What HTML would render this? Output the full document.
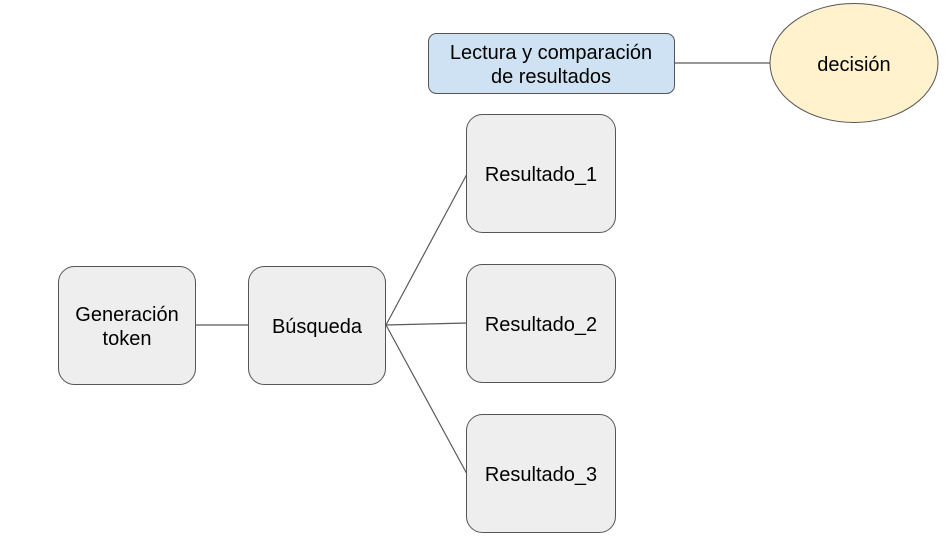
<!DOCTYPE html>
<html><head><meta charset="utf-8"><style>
html,body{margin:0;padding:0;background:#fff;width:949px;height:548px;overflow:hidden}
svg text{font-family:"Liberation Sans",Arial,sans-serif;font-size:20px;fill:#000}
</style></head><body>
<svg width="949" height="548" viewBox="0 0 949 548" xmlns="http://www.w3.org/2000/svg">
<g stroke="#595959" stroke-width="1.2" fill="none">
<line x1="674" y1="63" x2="770" y2="63"/>
<line x1="195" y1="325" x2="248" y2="325"/>
<line x1="386" y1="325" x2="467" y2="174"/>
<line x1="386" y1="325" x2="467" y2="323"/>
<line x1="386" y1="325" x2="467" y2="474"/>
</g>
<g stroke="#555" stroke-width="1">
<rect x="428.5" y="33.5" width="246" height="60" rx="8" fill="#cfe2f3"/>
<ellipse cx="854" cy="63" rx="84" ry="59.5" fill="#fff2cc"/>
<rect x="466.5" y="114.5" width="149" height="118" rx="16" fill="#eeeeee"/>
<rect x="466.5" y="264.5" width="149" height="118" rx="16" fill="#eeeeee"/>
<rect x="466.5" y="414.5" width="149" height="118" rx="16" fill="#eeeeee"/>
<rect x="58.5" y="266.5" width="137" height="118" rx="16" fill="#eeeeee"/>
<rect x="248.5" y="266.5" width="137" height="118" rx="16" fill="#eeeeee"/>
</g>
<g text-anchor="middle">
<text x="551" y="59">Lectura y comparación</text>
<text x="551" y="83">de resultados</text>
<text x="854" y="71">decisión</text>
<text x="541" y="181">Resultado_1</text>
<text x="541" y="331">Resultado_2</text>
<text x="541" y="481">Resultado_3</text>
<text x="127" y="321">Generación</text>
<text x="127" y="345">token</text>
<text x="317" y="333">Búsqueda</text>
</g>
</svg>
</body></html>
